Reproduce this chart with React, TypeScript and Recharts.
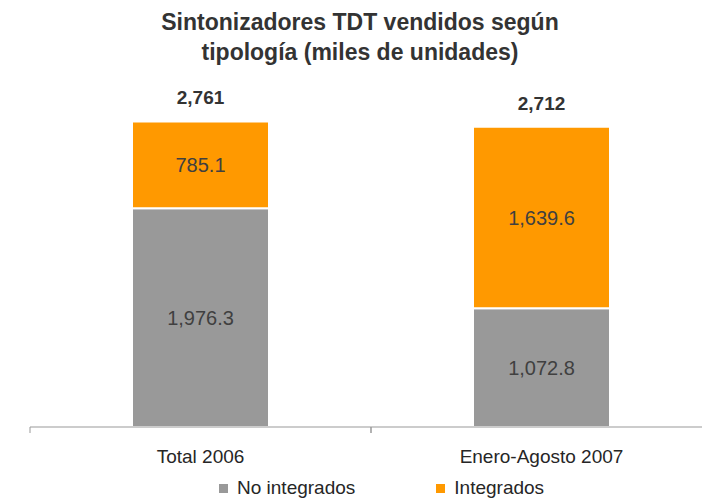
import React from "react";
import { BarChart, Bar, XAxis, YAxis, LabelList } from "recharts";

const categories = ["Total 2006", "Enero-Agosto 2007"];
const noIntegrados = [1976.3, 1072.8];
const integrados = [785.1, 1639.6];
const totals = [2761, 2712];
const seriesNames = ["No integrados", "Integrados"];

const data = categories.map((cat, i) => ({
  cat,
  noIntegrados: noIntegrados[i],
  integrados: integrados[i],
  total: totals[i],
}));

const FONT = '"Liberation Sans", Arial, Helvetica, sans-serif';
const GRAY = "#999999";
const ORANGE = "#FF9900";
const seriesColors = [GRAY, ORANGE];
const HALF_BAND = 170.5;

const fmt1 = (v: any) =>
  Number(v).toLocaleString("en-US", { minimumFractionDigits: 1, maximumFractionDigits: 1 });
const fmt0 = (v: any) => Number(v).toLocaleString("en-US");

const CatTick = (props: any) => {
  const { x, y, payload } = props;
  return (
    <g>
      <line x1={x - HALF_BAND} x2={x - HALF_BAND} y1={y} y2={y + 6} stroke="#999" />
      <line x1={x + HALF_BAND} x2={x + HALF_BAND} y1={y} y2={y + 6} stroke="#999" />
      <text x={x} y={y + 36} textAnchor="middle" fill="#262626" fontSize={19} fontFamily={FONT}>
        {payload.value}
      </text>
    </g>
  );
};

export default function App() {
  return (
    <div style={{ position: "relative", width: 702, height: 498, overflow: "hidden", background: "#fff" }}>
      <style>{`body{margin:0}`}</style>
      <div
        style={{
          position: "absolute",
          top: 7,
          left: 0,
          width: 720,
          textAlign: "center",
          fontFamily: FONT,
          fontWeight: "bold",
          fontSize: 23,
          lineHeight: "30px",
          color: "#333",
        }}
      >
        <div style={{ width: 720 }}>Sintonizadores TDT vendidos según</div>
        <div style={{ width: 720 }}>tipología (miles de unidades)</div>
      </div>
      <div style={{ position: "absolute", top: 0, left: 0 }}>
        <BarChart
          width={720}
          height={498}
          data={data}
          margin={{ top: 95, right: 8, left: 30, bottom: 0 }}
          barSize={137}
        >
          <XAxis
            dataKey="cat"
            height={71}
            axisLine={{ stroke: "#999" }}
            tickLine={false}
            tickSize={0}
            tickMargin={0}
            tick={<CatTick />}
            interval={0}
          />
          <YAxis hide domain={[0, 3000]} />
          <Bar
            dataKey="noIntegrados"
            name={seriesNames[0]}
            stackId="a"
            fill={GRAY}
            stroke="#fff"
            strokeWidth={2}
            isAnimationActive={false}
          >
            <LabelList
              dataKey="noIntegrados"
              position="center"
              formatter={fmt1}
              fill="#404040"
              fontSize={20}
              fontFamily={FONT}
            />
          </Bar>
          <Bar
            dataKey="integrados"
            name={seriesNames[1]}
            stackId="a"
            fill={ORANGE}
            stroke="#fff"
            strokeWidth={2}
            isAnimationActive={false}
          >
            <LabelList
              dataKey="integrados"
              position="center"
              formatter={fmt1}
              fill="#404040"
              fontSize={20}
              fontFamily={FONT}
            />
            <LabelList
              dataKey="total"
              position="top"
              offset={17}
              formatter={fmt0}
              fill="#333"
              fontSize={19}
              fontWeight="bold"
              fontFamily={FONT}
            />
          </Bar>
        </BarChart>
      </div>
      <div
        style={{
          position: "absolute",
          top: 477,
          left: 219,
          display: "flex",
          fontFamily: FONT,
          fontSize: 19,
          lineHeight: "22px",
          color: "#262626",
          whiteSpace: "nowrap",
        }}
      >
        {seriesNames.map((n, i) => (
          <div key={n} style={{ display: "flex", alignItems: "center", marginRight: i === 0 ? 81 : 0 }}>
            <span
              style={{ width: 9, height: 9, background: seriesColors[i], display: "inline-block", marginRight: 9 }}
            />
            <span>{n}</span>
          </div>
        ))}
      </div>
    </div>
  );
}
